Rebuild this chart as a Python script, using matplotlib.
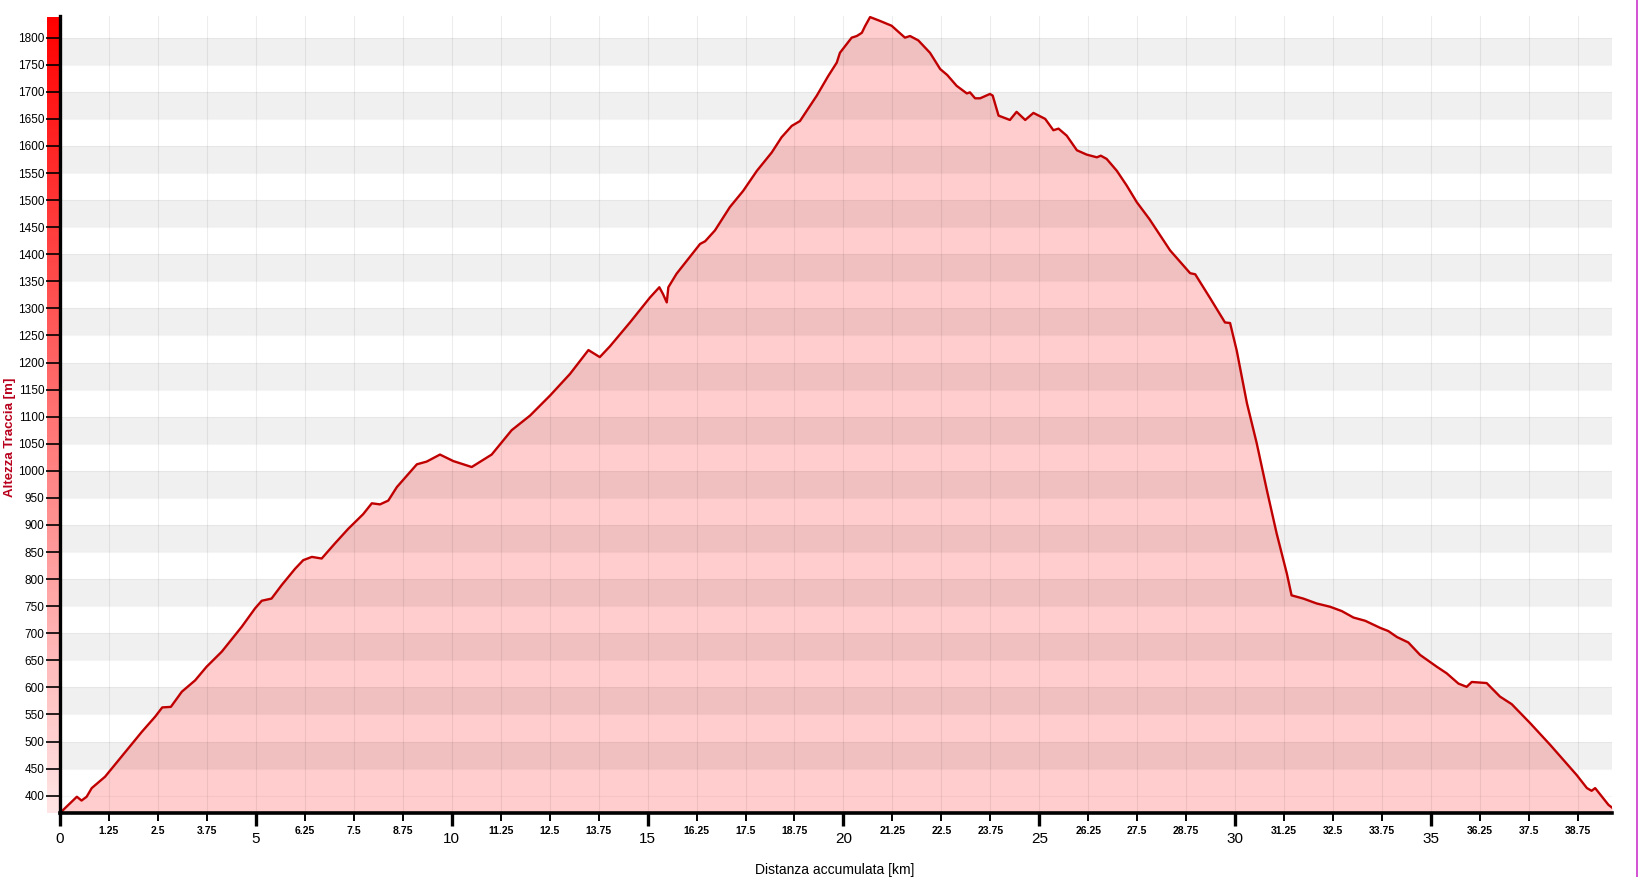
import numpy as np
import matplotlib
matplotlib.use("Agg")
import matplotlib.pyplot as plt
from matplotlib.lines import Line2D

# elevation profile (km, m)
distance_km = [0.0, 0.43, 0.55, 0.68, 0.81, 1.15, 1.57, 2.09, 2.43, 2.61, 2.83, 3.11, 3.45,
               3.74, 4.13, 4.64, 4.98, 5.15, 5.40, 5.66, 6.00, 6.21, 6.43, 6.68, 7.02, 7.36,
               7.74, 7.96, 8.17, 8.38, 8.60, 9.11, 9.36, 9.70, 10.04, 10.51, 11.02, 11.53,
               12.00, 12.51, 13.02, 13.49, 13.78, 14.04, 14.55, 15.06, 15.30, 15.39, 15.49,
               15.53, 15.74, 16.34, 16.47, 16.72, 17.10, 17.44, 17.79, 18.17, 18.42, 18.68,
               18.89, 19.32, 19.61, 19.83, 19.91, 20.21, 20.34, 20.47, 20.55, 20.68, 20.93,
               21.23, 21.57, 21.70, 21.91, 22.21, 22.47, 22.65, 22.89, 23.15, 23.23, 23.36,
               23.49, 23.74, 23.81, 23.96, 24.25, 24.42, 24.64, 24.85, 25.15, 25.36, 25.49,
               25.70, 25.96, 26.21, 26.47, 26.57, 26.72, 26.98, 27.23, 27.49, 27.81, 28.34,
               28.85, 28.98, 29.36, 29.74, 29.87, 30.04, 30.30, 30.55, 30.81, 31.06, 31.32,
               31.44, 31.74, 32.08, 32.42, 32.72, 33.02, 33.32, 33.70, 33.91, 34.13, 34.42,
               34.72, 35.15, 35.40, 35.70, 35.91, 36.04, 36.42, 36.76, 37.06, 37.53, 38.04,
               38.72, 38.98, 39.10, 39.19, 39.53, 39.62]
elevation_m = [368, 398, 391, 398, 414, 435, 472, 518, 546, 563, 564, 592, 613,
               638, 666, 712, 746, 760, 764, 789, 819, 835, 841, 838, 866, 893,
               920, 940, 938, 945, 970, 1012, 1017, 1030, 1018, 1007, 1030, 1075,
               1102, 1139, 1179, 1223, 1210, 1230, 1274, 1320, 1339, 1327, 1311,
               1339, 1364, 1419, 1424, 1444, 1487, 1517, 1554, 1588, 1616, 1637,
               1646, 1693, 1729, 1754, 1772, 1800, 1803, 1809, 1821, 1838, 1831,
               1822, 1800, 1803, 1795, 1772, 1742, 1731, 1711, 1697, 1699, 1688,
               1688, 1696, 1693, 1656, 1648, 1663, 1648, 1661, 1650, 1629, 1632,
               1619, 1592, 1584, 1579, 1582, 1576, 1554, 1527, 1496, 1465, 1407,
               1365, 1363, 1319, 1274, 1273, 1222, 1125, 1051, 964, 884, 810,
               770, 764, 755, 749, 741, 729, 723, 710, 704, 693, 683,
               660, 638, 626, 607, 601, 610, 608, 583, 569, 534, 494,
               438, 414, 409, 414, 383, 378]

major_ticks = [0, 5, 10, 15, 20, 25, 30, 35]
minor_ticks = [t for t in np.arange(0, 39.5, 1.25) if t % 5 != 0]
y_ticks = list(range(400, 1801, 50))

x_max = 39.62
y_min, y_max = 368, 1840

W, H = 1638, 877
fig = plt.figure(figsize=(W / 100, H / 100), dpi=100)
ax = fig.add_axes([60 / W, 1 - 813 / H, (1612 - 60) / W, (813 - 16) / H])

line_col = "#c00000"
fill_col = "#ffcdcd"

# area + profile
ax.fill_between(distance_km, elevation_m, y_min, color=fill_col, lw=0, zorder=1)
ax.plot(distance_km, elevation_m, color=line_col, lw=1.7, zorder=4, solid_joinstyle="round")

# alternating grey bands, drawn over the fill so they darken it
for lo in range(450, 1800, 100):
    ax.axhspan(lo, lo + 50, color="black", alpha=0.06, lw=0, zorder=2)
for y in y_ticks:
    ax.axhline(y, color="black", alpha=0.04, lw=0.8, zorder=2)
for x in sorted(major_ticks[1:] + minor_ticks):
    ax.axvline(x, color="black", alpha=0.07, lw=0.8, zorder=2)

ax.set_xlim(0, x_max)
ax.set_ylim(y_min, y_max)

for s in ["top", "right"]:
    ax.spines[s].set_visible(False)
ax.spines["left"].set_linewidth(2.4)
ax.spines["bottom"].set_linewidth(2.6)
ax.spines["left"].set_zorder(5)
ax.spines["bottom"].set_zorder(5)

ax.set_yticks(y_ticks)
ax.set_yticklabels([str(v) for v in y_ticks], family="Liberation Sans", fontsize=8.5)
ax.tick_params(axis="y", length=10, width=1.2, pad=1, color="black")

ax.set_xticks(major_ticks)
ax.set_xticklabels([str(v) for v in major_ticks], family="Liberation Sans", fontsize=11)
ax.set_xticks(minor_ticks, minor=True)
ax.set_xticklabels(["%g" % v for v in minor_ticks], minor=True,
                   family="Liberation Sans", fontsize=7.5, fontweight="bold")
ax.tick_params(axis="x", which="major", length=9, width=2.4, pad=5)
ax.tick_params(axis="x", which="minor", length=5.5, width=1.4, pad=4)

# coloured altitude bar left of the y axis
bar = fig.add_axes([47 / W, 1 - 813 / H, 12 / W, (813 - 17) / H])
grad = np.linspace(0, 1, 256).reshape(-1, 1)
top = np.array([1.0, 0.0, 0.0])
bot = np.array([1.0, 0.9, 0.9])
img = bot + (top - bot) * grad[..., None]
bar.imshow(img[::-1], aspect="auto", extent=[0, 1, 0, 1])
bar.set_axis_off()
bar.set_zorder(0)
ax.set_zorder(1)
ax.patch.set_alpha(0)

fig.text(835 / W, 1 - 870 / H, "Distanza accumulata [km]", ha="center", va="center",
         family="Liberation Sans", fontsize=10)
fig.text(10 / W, 1 - 437 / H, "Altezza Traccia [m]", ha="center", va="center", rotation=90,
         family="Liberation Sans", fontsize=9.5, fontweight="bold", color="#b8001c")

# magenta frame edge at the right of the image
fig.add_artist(Line2D([1636.5 / W, 1636.5 / W], [0, 1], transform=fig.transFigure,
                      color="#cc33cc", lw=1.2))

fig.savefig("out.png", dpi=100)
